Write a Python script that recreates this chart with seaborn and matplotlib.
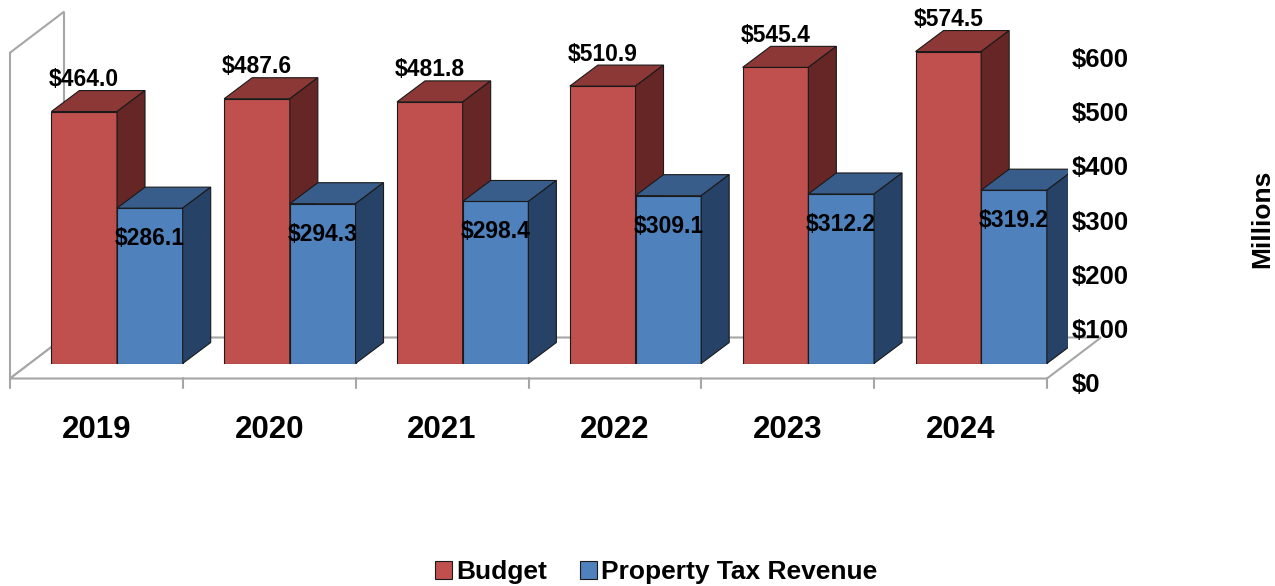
import numpy as np
import pandas as pd
import matplotlib
matplotlib.use('Agg')
import matplotlib.pyplot as plt
import matplotlib.transforms as mtransforms
from matplotlib.patches import Polygon
import seaborn as sns

# --- DATA ---
YEARS = ['2019', '2020', '2021', '2022', '2023', '2024']
BUDGET = [464.0, 487.6, 481.8, 510.9, 545.4, 574.5]
PROPERTY_TAX = [286.1, 294.3, 298.4, 309.1, 312.2, 319.2]
SERIES = ['Budget', 'Property Tax Revenue']
Y_TICKS = [0, 100, 200, 300, 400, 500, 600]
Y_TICK_LABELS = ['$0', '$100', '$200', '$300', '$400', '$500', '$600']

# --- COLORS (front / top / side of each 3D bar) ---
FRONT = {'Budget': '#C0504D', 'Property Tax Revenue': '#4F81BD'}
TOP = {'Budget': '#8C3836', 'Property Tax Revenue': '#385D8A'}
SIDE = {'Budget': '#652625', 'Property Tax Revenue': '#264266'}
EDGE = '#1a1a1a'
GREY = '#A6A6A6'

# fake perspective, in pixels (right, up)
BAR_DEPTH = (28, 21)
FLOOR_FRONT = (-20.6, -15)
FLOOR_DEPTH = (54, 41)

sns.set_style('white')
plt.rcParams['font.family'] = ['Liberation Sans', 'DejaVu Sans']
plt.rcParams['font.weight'] = 'bold'
plt.rcParams['text.color'] = 'black'
plt.rcParams['xtick.color'] = 'black'
plt.rcParams['ytick.color'] = 'black'
plt.rcParams['xtick.labelcolor'] = 'black'
plt.rcParams['ytick.labelcolor'] = 'black'

df = pd.DataFrame({
    'Year': YEARS * 2,
    'Value': BUDGET + PROPERTY_TAX,
    'Series': [SERIES[0]] * len(YEARS) + [SERIES[1]] * len(YEARS),
})

fig = plt.figure(figsize=(12.75, 5.86), dpi=100)
ax = fig.add_axes([30.6 / 1275, (586 - 363.5) / 586, 1037 / 1275, 650 * 0.543 / 586])

sns.barplot(data=df, x='Year', y='Value', hue='Series', hue_order=SERIES,
            palette=FRONT, saturation=1, width=0.76, edgecolor=EDGE,
            linewidth=0.8, ax=ax)
ax.set_xlim(-0.5, len(YEARS) - 0.5)
ax.set_ylim(0, 650)
for s in ax.spines.values():
    s.set_visible(False)
ax.grid(False)
ax.set_xlabel('')
ax.set_ylabel('')

# pixel -> data conversion
p0 = ax.transData.transform((0, 0))
sx = ax.transData.transform((1, 0))[0] - p0[0]
sy = ax.transData.transform((0, 1))[1] - p0[1]


def px(dx, dy):
    return dx / sx, dy / sy


# --- floor and left wall ---
fx, fy = px(*FLOOR_FRONT)
bx, by = px(*FLOOR_DEPTH)
x_left, x_right = -0.5 + fx, len(YEARS) - 0.5 + fx
floor = [(x_left, fy), (x_right, fy), (x_right + bx, fy + by), (x_left + bx, fy + by)]
ax.add_patch(Polygon(floor, closed=True, fc='white', ec=GREY, lw=1.5, zorder=0.5, clip_on=False))
top = Y_TICKS[-1]
wall = [(x_left, fy), (x_left, fy + top), (x_left + bx, fy + top + by), (x_left + bx, fy + by)]
ax.add_patch(Polygon(wall, closed=True, fc='none', ec=GREY, lw=1.5, zorder=0.4, clip_on=False))
_, tick_len = px(0, 10)
for b in np.arange(len(YEARS) + 1) - 0.5:
    ax.plot([b + fx, b + fx], [fy, fy - tick_len], color=GREY, lw=1.5, clip_on=False, zorder=0.5)

# --- 3D faces on top of seaborn bars ---
ddx, ddy = px(*BAR_DEPTH)
for z, (name, cont) in enumerate(zip(SERIES, ax.containers)):
    for p in cont.patches:
        p.set_zorder(2 + z)
        x0, w, h = p.get_x(), p.get_width(), p.get_height()
        top_face = [(x0, h), (x0 + w, h), (x0 + w + ddx, h + ddy), (x0 + ddx, h + ddy)]
        side_face = [(x0 + w, 0), (x0 + w, h), (x0 + w + ddx, h + ddy), (x0 + w + ddx, ddy)]
        ax.add_patch(Polygon(top_face, closed=True, fc=TOP[name], ec=EDGE, lw=0.8, zorder=2 + z))
        ax.add_patch(Polygon(side_face, closed=True, fc=SIDE[name], ec=EDGE, lw=0.8, zorder=2 + z))
        off = 32 if name == 'Budget' else -30.5
        ax.annotate(f'${h:.1f}', xy=(x0 + w / 2, h), xytext=(0, off),
                    textcoords='offset pixels', ha='center', va='center',
                    fontsize=16.5, fontweight='bold', color='black', zorder=10,
                    annotation_clip=False)

# --- axes ticks ---
ax.set_xticks(range(len(YEARS)))
ax.set_xticklabels(YEARS)
ax.tick_params(axis='x', length=0, pad=37, labelsize=22.5, labelcolor='black')
shift_x = mtransforms.ScaledTranslation(FLOOR_FRONT[0] / 100, 0, fig.dpi_scale_trans)
for lbl in ax.get_xticklabels():
    lbl.set_transform(lbl.get_transform() + shift_x)

ax.yaxis.tick_right()
ax.set_yticks(Y_TICKS)
ax.set_yticklabels(Y_TICK_LABELS)
ax.tick_params(axis='y', length=0, pad=3.2, labelsize=18.5, labelcolor='black')
shift_y = mtransforms.ScaledTranslation(0, -19.5 / 100, fig.dpi_scale_trans)
for lbl in ax.get_yticklabels():
    lbl.set_transform(lbl.get_transform() + shift_y)

fig.text(1262 / 1275, 1 - 219 / 586, 'Millions', rotation=90, ha='center', va='center',
         fontsize=19, fontweight='bold', color='black')

sns.move_legend(ax, 'center', bbox_to_anchor=(656 / 1275, 1 - 572 / 586),
                bbox_transform=fig.transFigure, ncol=2, frameon=False, title=None,
                fontsize=19, handlelength=0.65, handleheight=0.65,
                handletextpad=0.15, columnspacing=1.25, labelcolor='black')

fig.savefig('out.png', dpi=100)
